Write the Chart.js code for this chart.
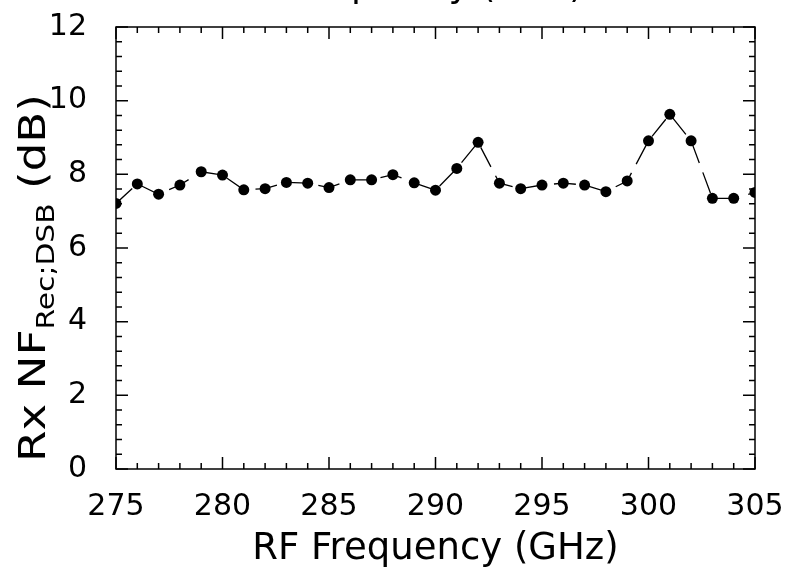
<!DOCTYPE html>
<html>
<head>
<meta charset="utf-8">
<script src="https://cdn.jsdelivr.net/npm/chart.js@4.4.0/dist/chart.umd.min.js"></script>
<style>
  body { margin: 0; background: #fff; }
</style>
</head>
<body>
<canvas id="myChart" width="785" height="572"></canvas>
<script>
// RF frequency (GHz) and receiver noise figure (dB)
const freqs = [275, 276, 277, 278, 279, 280, 281, 282, 283, 284, 285, 286, 287, 288, 289, 290,
               291, 292, 293, 294, 295, 296, 297, 298, 299, 300, 301, 302, 303, 304, 305];
const nfValues = [7.21, 7.74, 7.46, 7.71, 8.07, 7.98, 7.58, 7.61, 7.78, 7.76, 7.64, 7.85, 7.85, 7.99, 7.77, 7.57,
                  8.16, 8.87, 7.76, 7.61, 7.71, 7.76, 7.71, 7.53, 7.82, 8.91, 9.63, 8.91, 7.35, 7.35, 7.51];
const xTicks = [275, 280, 285, 290, 295, 300, 305];
const yTicks = [0, 2, 4, 6, 8, 10, 12];

const FONT = "'DejaVu Sans', Verdana, sans-serif";

// frame + inward tick marks on all four sides
const frameTicks = {
    id: 'frameTicks',
    afterDraw(chart) {
        const ctx = chart.ctx;
        const { left, right, top, bottom } = chart.chartArea;
        const xs = chart.scales.x, ys = chart.scales.y;
        ctx.save();
        ctx.strokeStyle = '#000';
        ctx.lineWidth = 1.5;
        ctx.strokeRect(left, top, right - left, bottom - top);
        ctx.beginPath();
        for (let f = xs.min; f <= xs.max; f++) {
            const px = xs.getPixelForValue(f);
            const len = (f % 5 === 0) ? 12 : 6;
            ctx.moveTo(px, bottom); ctx.lineTo(px, bottom - len);
            ctx.moveTo(px, top); ctx.lineTo(px, top + len);
        }
        for (let i = 0; i <= 30; i++) {
            const py = ys.getPixelForValue(i * 0.4);
            const len = (i % 5 === 0) ? 12 : 6;
            ctx.moveTo(left, py); ctx.lineTo(left + len, py);
            ctx.moveTo(right, py); ctx.lineTo(right - len, py);
        }
        ctx.stroke();
        ctx.restore();
    }
};

// y axis title with subscript, and the clipped title at the top edge
const titles = {
    id: 'titles',
    afterDraw(chart) {
        const ctx = chart.ctx;
        ctx.save();
        ctx.fillStyle = '#000';
        ctx.textBaseline = 'alphabetic';
        const mainF = '38px ' + FONT, subF = '25px ' + FONT;
        const parts = [
            { t: 'Rx NF', f: mainF, dy: 0 },
            { t: 'Rec;DSB', f: subF, dy: 9 },
            { t: ' (dB)', f: mainF, dy: 0 }
        ];
        let total = 0;
        parts.forEach(p => { ctx.font = p.f; p.w = ctx.measureText(p.t).width; total += p.w; });
        const stretch = 368 / total;   // the original lettering runs wider than DejaVu
        ctx.translate(45, 278);
        ctx.rotate(-Math.PI / 2);
        ctx.scale(stretch, 1);
        let x = -total / 2;
        ctx.textAlign = 'left';
        parts.forEach(p => { ctx.font = p.f; ctx.fillText(p.t, x, p.dy); x += p.w; });
        ctx.restore();

        // chart title sits above the canvas, only the descenders show
        ctx.save();
        ctx.fillStyle = '#000';
        ctx.font = '36px ' + FONT;
        ctx.textAlign = 'center';
        ctx.textBaseline = 'alphabetic';
        const { left, right } = chart.chartArea;
        ctx.fillText('Frequency (GHz)', (left + right) / 2 - 2, -3);
        ctx.restore();
    }
};

const ctx = document.getElementById('myChart');
new Chart(ctx, {
    type: 'scatter',
    data: {
        datasets: [{
            data: freqs.map((f, i) => ({ x: f, y: nfValues[i] })),
            showLine: true,
            borderColor: '#000',
            borderWidth: 1.3,
            borderDash: [22, 10],
            backgroundColor: '#000',
            pointRadius: 5.5,
            pointHoverRadius: 5.5,
            pointBorderWidth: 0,
            tension: 0
        }]
    },
    options: {
        responsive: false,
        animation: false,
        devicePixelRatio: 1,
        layout: { padding: { left: 0, right: 30, top: 27, bottom: 0 } },
        plugins: { legend: { display: false }, tooltip: { enabled: false } },
        scales: {
            x: {
                type: 'linear',
                min: 275, max: 305,
                afterFit(scale) {
                    scale.height = 103;
                    scale.paddingLeft = 0;
                    scale.paddingRight = 0;
                },
                afterBuildTicks(scale) { scale.ticks = xTicks.map(v => ({ value: v })); },
                grid: { display: false },
                border: { display: false },
                ticks: { color: '#000', padding: 12, font: { family: FONT, size: 30 } },
                title: {
                    display: true,
                    text: 'RF Frequency (GHz)',
                    color: '#000',
                    font: { family: FONT, size: 37 },
                    padding: { top: 0, bottom: 0 }
                }
            },
            y: {
                min: 0, max: 12,
                afterFit(scale) {
                    scale.width = 116;
                    scale.paddingTop = 0;
                    scale.paddingBottom = 0;
                },
                afterBuildTicks(scale) { scale.ticks = yTicks.map(v => ({ value: v })); },
                grid: { display: false },
                border: { display: false },
                ticks: { color: '#000', padding: 21, font: { family: FONT, size: 30 } }
            }
        }
    },
    plugins: [frameTicks, titles]
});
</script>
</body>
</html>
